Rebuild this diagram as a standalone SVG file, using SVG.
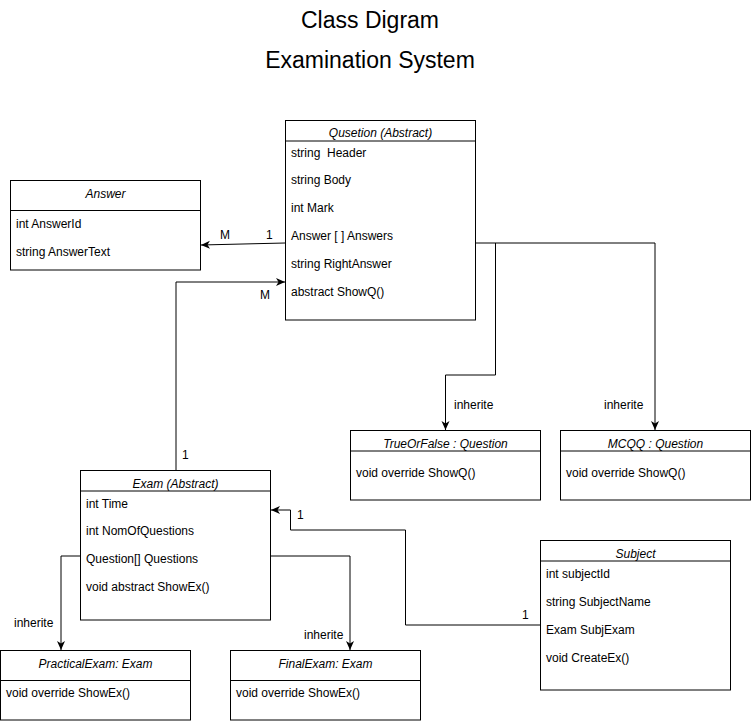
<svg xmlns="http://www.w3.org/2000/svg" width="751" height="723" viewBox="0 0 751 723">
<style>
text{font-family:"Liberation Sans",Arial,sans-serif;font-size:12px;fill:#000}
.t{font-style:italic;text-anchor:middle}
.h{font-size:23px;text-anchor:middle}
.b{fill:#fff;stroke:#000;stroke-width:1}
.d{stroke:#000;stroke-width:1}
.c{fill:none;stroke:#000;stroke-width:1}
</style>
<defs>
<marker id="a" markerWidth="10" markerHeight="10" refX="9" refY="4" orient="auto" markerUnits="userSpaceOnUse">
<path d="M0,0 L9,4 L0,8 L2.5,4 z" fill="#000"/>
</marker>
</defs>
<rect width="751" height="723" fill="#fff"/>
<text class="h" x="370" y="28">Class Digram</text>
<text class="h" x="370" y="68">Examination System</text>

<g id="connectors">
<path class="c" d="M285,243 L201,245" marker-end="url(#a)"/>
<path class="c" d="M176,470 L176,282 L285,282" marker-end="url(#a)"/>
<path class="c" d="M475,243 L655,243 L655,430" marker-end="url(#a)"/>
<path class="c" d="M495.5,243 L495.5,375 L445.5,375 L445.5,430" marker-end="url(#a)"/>
<path class="c" d="M540,625 L405.5,625 L405.5,530 L290.5,530 L290.5,510 L271,510" marker-end="url(#a)"/>
<path class="c" d="M80,556 L61,556 L61,650" marker-end="url(#a)"/>
<path class="c" d="M270,556 L350,556 L350,650" marker-end="url(#a)"/>
<text x="220" y="239">M</text>
<text x="266" y="239">1</text>
<text x="260" y="299">M</text>
<text x="182" y="459">1</text>
<text x="454" y="409">inherite</text>
<text x="604" y="409">inherite</text>
<text x="297" y="519">1</text>
<text x="522" y="619">1</text>
<text x="14" y="627">inherite</text>
<text x="304" y="639">inherite</text>
</g>

<g id="question">
<rect class="b" x="285.5" y="120.5" width="190" height="199.5"/>
<line class="d" x1="285.5" y1="141" x2="475.5" y2="141"/>
<text class="t" x="380.5" y="137">Qusetion (Abstract)</text>
<text x="291" y="157">string&#160; Header</text>
<text x="291" y="184">string Body</text>
<text x="291" y="212">int Mark</text>
<text x="291" y="240">Answer [ ] Answers</text>
<text x="291" y="268">string RightAnswer</text>
<text x="291" y="296">abstract ShowQ()</text>
</g>

<g id="answer">
<rect class="b" x="10.5" y="180.5" width="190" height="89.5"/>
<line class="d" x1="10.5" y1="210.5" x2="200.5" y2="210.5"/>
<text class="t" x="105.5" y="198">Answer</text>
<text x="16" y="228">int AnswerId</text>
<text x="16" y="256">string AnswerText</text>
</g>

<g id="trueorfalse">
<rect class="b" x="350.5" y="430.5" width="190" height="69.5"/>
<line class="d" x1="350.5" y1="451" x2="540.5" y2="451"/>
<text class="t" x="445.5" y="448">TrueOrFalse : Question</text>
<text x="356" y="477">void override ShowQ()</text>
</g>

<g id="mcqq">
<rect class="b" x="560.5" y="430.5" width="190" height="69.5"/>
<line class="d" x1="560.5" y1="451" x2="750.5" y2="451"/>
<text class="t" x="655.5" y="448">MCQQ : Question</text>
<text x="566" y="477">void override ShowQ()</text>
</g>

<g id="exam">
<rect class="b" x="80.5" y="470.5" width="190" height="149.5"/>
<line class="d" x1="80.5" y1="491" x2="270.5" y2="491"/>
<text class="t" x="175.5" y="488">Exam (Abstract)</text>
<text x="86" y="508">int Time</text>
<text x="86" y="535">int NomOfQuestions</text>
<text x="86" y="563">Question[] Questions</text>
<text x="86" y="591">void abstract ShowEx()</text>
</g>

<g id="subject">
<rect class="b" x="540.5" y="540.5" width="190" height="149.5"/>
<line class="d" x1="540.5" y1="561" x2="730.5" y2="561"/>
<text class="t" x="635.5" y="558">Subject</text>
<text x="546" y="578">int subjectId</text>
<text x="546" y="606">string SubjectName</text>
<text x="546" y="634">Exam SubjExam</text>
<text x="546" y="662">void CreateEx()</text>
</g>

<g id="practicalexam">
<rect class="b" x="0.5" y="650.5" width="190" height="69.5"/>
<line class="d" x1="0.5" y1="680.5" x2="190.5" y2="680.5"/>
<text class="t" x="95.5" y="668">PracticalExam: Exam</text>
<text x="6" y="697">void override ShowEx()</text>
</g>

<g id="finalexam">
<rect class="b" x="230.5" y="650.5" width="190" height="69.5"/>
<line class="d" x1="230.5" y1="680.5" x2="420.5" y2="680.5"/>
<text class="t" x="325.5" y="668">FinalExam: Exam</text>
<text x="236" y="697">void override ShowEx()</text>
</g>
</svg>
